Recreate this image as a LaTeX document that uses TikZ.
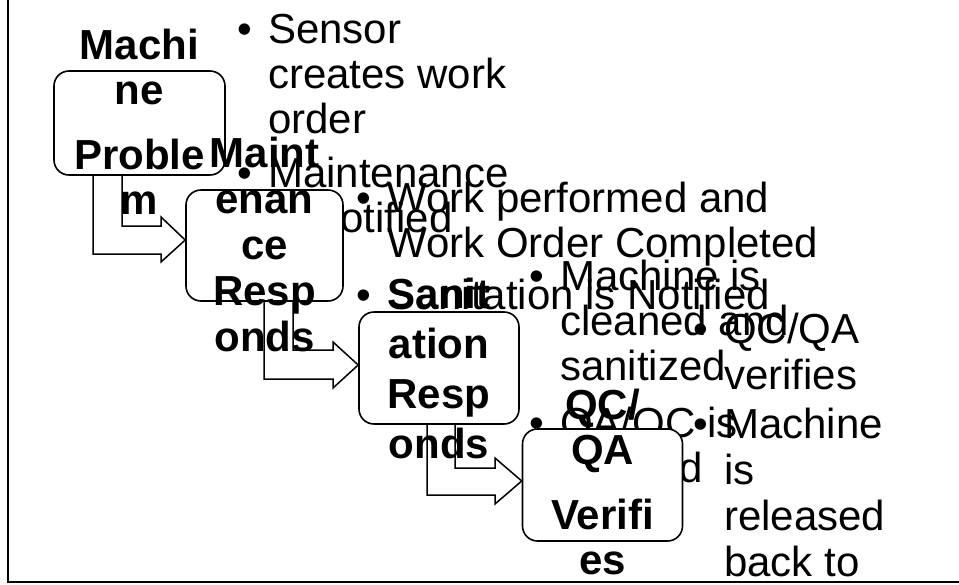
\documentclass[tikz,border=0pt]{standalone}
\usepackage{fontspec}
\setmainfont{Liberation Sans}

\begin{document}
\begin{tikzpicture}[
  x=1pt, y=-1pt,
  procbox/.style={draw, fill=white, rounded corners=15pt, line width=1.6pt, inner sep=0pt},
  boxlabel/.style={font={\bfseries\fontsize{42}{45}\selectfont}, inner sep=0pt, anchor=base},
  bullist/.style={font={\fontsize{42}{45}\selectfont}, inner sep=0pt, anchor=base west},
  flowarrow/.style={draw, line width=1.5pt}
]
\useasboundingbox (0,0) rectangle (959,584);
\draw[line width=2pt] (7.5,0) -- (7.5,581.5) -- (959,581.5);

% step 1
\node[procbox, minimum width=171pt, minimum height=104pt] (mach) at (139.5,123) {};
\node[boxlabel] (machlbl) at (139.5,59) {\begin{tabular}[t]{@{}c@{}}Machi\\ne\\[20pt]Proble\\m\end{tabular}};
\node[bullist] (machtxt) at (237.6,43) {\begin{tabular}[t]{@{}p{30.4pt}@{}l@{}}
  \textbullet & Sensor\\ & creates work\\ & order\\[9pt]
  \textbullet & Maintenance\\ & is Notified\end{tabular}};

% step 2
\node[procbox, minimum width=157pt, minimum height=111pt] (maint) at (264.5,245.5) {};
\draw[flowarrow] (93,0 |- mach.south) -- (93,254) -- (161,254) -- (161,262)
  -- (maint.west |- 0,240) -- (161,217) -- (161,226) -- (122,226) -- (122,0 |- mach.south);
\node[boxlabel] (maintlbl) at (264.5,167) {\begin{tabular}[t]{@{}c@{}}Maint\\[1pt]enan\\[1pt]ce\\[1pt]Resp\\[1pt]onds\end{tabular}};
\node[bullist] (mainttxt) at (356.6,212) {\begin{tabular}[t]{@{}p{30.4pt}@{}l@{}}
  \textbullet & Work performed and\\ & Work Order Completed\\[7pt]
  \textbullet & Sanitation is Notified\end{tabular}};

% step 3
\node[procbox, minimum width=160pt, minimum height=112pt] (sanit) at (439,368) {};
\draw[flowarrow] (264,0 |- maint.south) -- (264,379) -- (333,379) -- (333,388)
  -- (sanit.west |- 0,365) -- (333,342) -- (333,350) -- (293,350) -- (293,0 |- maint.south);
\node[boxlabel] (sanitlbl) at (439,308) {\begin{tabular}[t]{@{}c@{}}Sanit\\[5pt]ation\\[5pt]Resp\\[5pt]onds\end{tabular}};
\node[bullist] (sanittxt) at (529.6,290) {\begin{tabular}[t]{@{}p{30.4pt}@{}l@{}}
  \textbullet & Machine is\\ & cleaned and\\ & sanitized\\[12pt]
  \textbullet & QA/QC is\\ & Notified\end{tabular}};

% step 4
\node[procbox, minimum width=160pt, minimum height=112pt] (verif) at (602.5,485) {};
\draw[flowarrow] (427,0 |- sanit.south) -- (427,495) -- (495,495) -- (495,504)
  -- (verif.west |- 0,481) -- (495,458) -- (495,468) -- (455,468) -- (455,0 |- sanit.south);
\node[boxlabel] (veriflbl) at (602.5,419) {\begin{tabular}[t]{@{}c@{}}QC/\\QA\\[20pt]Verifi\\es\end{tabular}};
\node[bullist] (veriftxt) at (693.6,343) {\begin{tabular}[t]{@{}p{30.4pt}@{}l@{}}
  \textbullet & QC/QA\\[1pt] & verifies\\[4pt]
  \textbullet & Machine\\[1pt] & is\\[1pt] & released\\[1pt] & back to\end{tabular}};
\end{tikzpicture}
\end{document}
